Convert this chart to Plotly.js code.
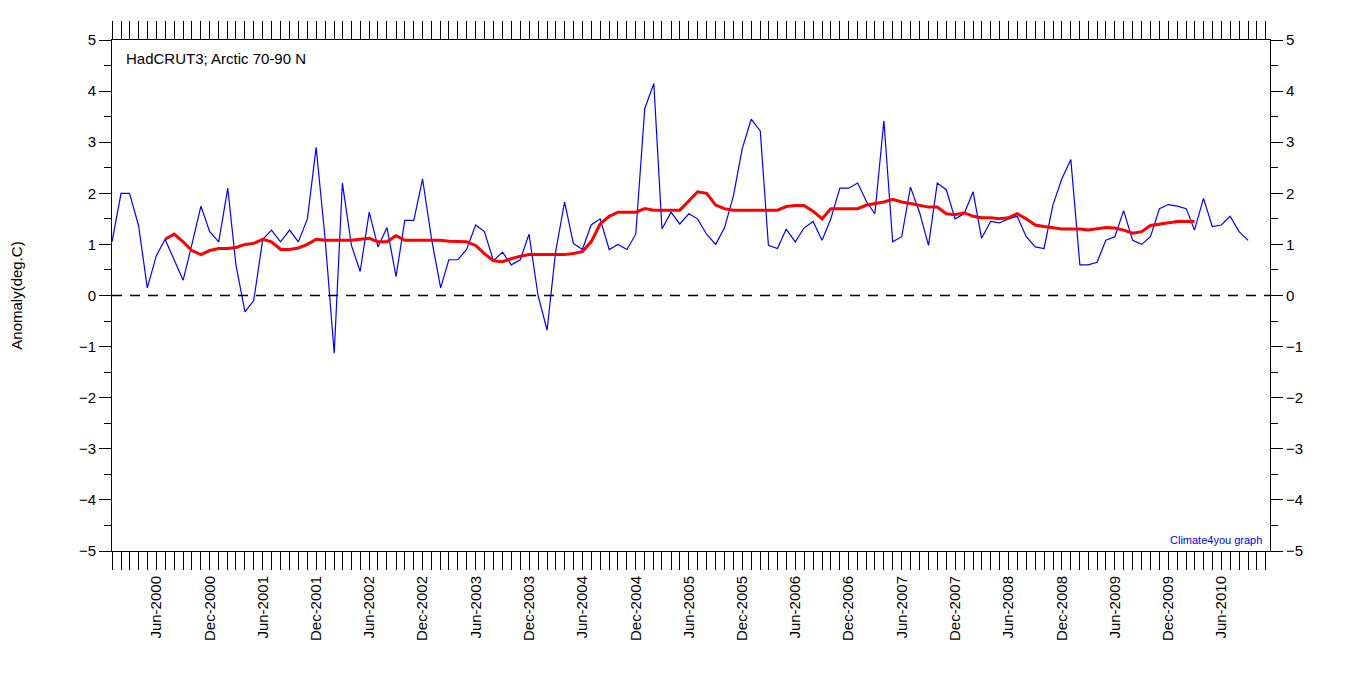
<!DOCTYPE html>
<html>
<head>
<meta charset="utf-8">
<script src="https://cdn.plot.ly/plotly-3.0.1.min.js"></script>
<style>body{margin:0;background:#fff}#myDiv{width:1352px;height:685px}</style>
</head>
<body>
<div id="myDiv"></div>
<script>
// monthly anomalies Jan 2000 .. Sep 2010
var monthly = [1.05,2.0,2.0,1.37,0.15,0.78,1.1,0.7,0.3,1.0,1.75,1.25,
  1.05,2.1,0.6,-0.32,-0.1,1.1,1.28,1.05,1.28,1.05,1.5,2.9,
  1.1,-1.13,2.2,0.98,0.47,1.63,0.95,1.33,0.37,1.47,1.47,2.28,
  1.1,0.15,0.7,0.7,0.9,1.38,1.25,0.68,0.85,0.6,0.7,1.2,
  0.0,-0.68,0.85,1.83,1.02,0.9,1.38,1.5,0.9,1.0,0.9,1.2,
  3.66,4.15,1.3,1.63,1.4,1.6,1.5,1.2,1.0,1.32,1.95,2.87,
  3.45,3.22,0.98,0.92,1.3,1.05,1.32,1.45,1.08,1.5,2.1,2.1,
  2.2,1.83,1.6,3.42,1.05,1.15,2.12,1.63,0.98,2.2,2.07,1.5,
  1.6,2.03,1.12,1.45,1.42,1.5,1.55,1.15,0.95,0.92,1.78,2.28,
  2.66,0.6,0.6,0.65,1.08,1.15,1.66,1.08,1.0,1.15,1.7,1.78,
  1.75,1.7,1.28,1.9,1.35,1.38,1.55,1.25,1.08];
// 37-month running mean, Jul 2000 .. Nov 2009
var smooth = [1.1,1.2,1.05,0.88,0.8,0.88,0.92,0.92,0.94,1.0,1.02,1.1,
  1.05,0.9,0.9,0.93,1.0,1.1,1.08,1.08,1.08,1.08,1.1,1.12,
  1.05,1.05,1.17,1.08,1.08,1.08,1.08,1.08,1.06,1.05,1.05,0.98,
  0.82,0.68,0.66,0.72,0.77,0.8,0.8,0.8,0.8,0.8,0.82,0.86,
  1.05,1.4,1.55,1.63,1.63,1.63,1.7,1.67,1.67,1.67,1.67,1.85,
  2.03,2.0,1.77,1.7,1.67,1.67,1.67,1.67,1.67,1.67,1.74,1.76,
  1.76,1.65,1.5,1.7,1.7,1.7,1.7,1.77,1.8,1.83,1.88,1.83,
  1.8,1.76,1.73,1.73,1.6,1.58,1.62,1.55,1.52,1.52,1.5,1.52,
  1.6,1.5,1.38,1.35,1.32,1.3,1.3,1.3,1.28,1.3,1.33,1.32,
  1.28,1.22,1.25,1.37,1.4,1.43,1.45,1.45,1.45];

function monthDate(i) {
  var y = 2000 + Math.floor(i / 12), m = i % 12 + 1;
  return y + '-' + (m < 10 ? '0' : '') + m + '-01';
}
var names = ['Jan','Feb','Mar','Apr','May','Jun','Jul','Aug','Sep','Oct','Nov','Dec'];
var xm = monthly.map(function (v, i) { return monthDate(i); });
var xs = smooth.map(function (v, i) { return monthDate(i + 6); });
var tickvals = [], ticktext = [];
for (var i = 0; i <= 130; i++) {
  tickvals.push(monthDate(i));
  var m = i % 12;
  ticktext.push((m === 5 || m === 11) ? names[m] + '-' + (2000 + Math.floor(i / 12)) : '');
}

var data = [
  {x: xm, y: monthly, type: 'scatter', mode: 'lines', line: {color: '#0000ff', width: 1.2}, hoverinfo: 'x+y'},
  {x: xs, y: smooth, type: 'scatter', mode: 'lines', line: {color: '#ff0000', width: 3}},
  {x: [xm[0]], y: [0], yaxis: 'y2', mode: 'none', showlegend: false, hoverinfo: 'skip'}
];
var yax = {range: [-5, 5], dtick: 1, ticks: 'outside', ticklen: 12, tickwidth: 1, tickcolor: '#000',
  showgrid: false, zeroline: false, linecolor: '#000', linewidth: 1,
  minor: {dtick: 0.5, ticks: 'outside', ticklen: 7, tickcolor: '#000'},
  tickfont: {family: 'Liberation Sans, Arial', size: 15, color: '#000'}};
var layout = {
  width: 1352, height: 685, showlegend: false,
  margin: {l: 112, r: 82, t: 40, b: 134},
  paper_bgcolor: '#fff', plot_bgcolor: '#fff',
  xaxis: {type: 'date', range: ['2000-01-01', '2010-11-15'], tickmode: 'array', tickvals: tickvals, ticktext: ticktext,
    ticks: 'outside', ticklen: 18, tickwidth: 1, tickcolor: '#000', tickangle: -90, mirror: 'ticks',
    showline: true, linecolor: '#000', showgrid: false, zeroline: false,
    tickfont: {family: 'Liberation Sans, Arial', size: 15, color: '#000'}},
  yaxis: Object.assign({}, yax, {mirror: true, showline: true,
    title: {text: 'Anomaly(deg.C)', standoff: 52, font: {family: 'Liberation Sans, Arial', size: 15, color: '#000'}}}),
  yaxis2: Object.assign({}, yax, {overlaying: 'y', side: 'right', showline: true}),
  shapes: [{type: 'line', xref: 'paper', x0: 0, x1: 1, yref: 'y', y0: 0, y1: 0,
    line: {color: '#000', width: 1.5, dash: '10px,8px'}}],
  annotations: [
    {xref: 'paper', yref: 'paper', x: 0.01, y: 0.985, xanchor: 'left', yanchor: 'top', showarrow: false,
      text: 'HadCRUT3; Arctic 70-90 N', font: {family: 'Liberation Sans, Arial', size: 15, color: '#000'}},
    {xref: 'paper', yref: 'paper', x: 0.995, y: 0.005, xanchor: 'right', yanchor: 'bottom', showarrow: false,
      text: 'Climate4you graph', font: {family: 'Liberation Sans, Arial', size: 11, color: '#0000ff'}}
  ]
};
Plotly.newPlot('myDiv', data, layout, {displayModeBar: false});
</script>
</body>
</html>
